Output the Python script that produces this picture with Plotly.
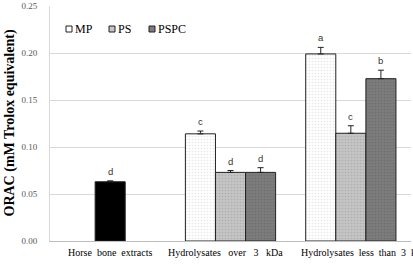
import plotly.graph_objects as go

categories = ["Horse bone extracts", "Hydrolysates over 3 kDa", "Hydrolysates less than 3 kDa"]
extract_value = [0.063]
extract_err = [0.001]
extract_letter = ["d"]

mp_values = [None, 0.114, 0.199]
mp_err = [0, 0.003, 0.007]
mp_letters = ["", "c", "a"]
ps_values = [None, 0.073, 0.1146]
ps_err = [0, 0.002, 0.008]
ps_letters = ["", "d", "c"]
pspc_values = [None, 0.073, 0.1727]
pspc_err = [0, 0.005, 0.009]
pspc_letters = ["", "d", "b"]

series_names = ["MP", "PS", "PSPC"]
y_ticks = [0.0, 0.05, 0.10, 0.15, 0.20, 0.25]

serif = "Liberation Serif, Times New Roman, serif"
sans = "Liberation Sans, Arial, sans-serif"

NB = "\u00a0"
label_text = [
    categories[0].replace(" ", NB + " "),
    categories[1].replace(" ", NB + NB + " "),
    categories[2].replace(" ", NB + " "),
]
# (anchor, pixel shift) for each category label
label_place = [("center", 0), ("center", -5), ("left", -52)]

fig = go.Figure()
W = 0.25
colors = ["#ffffff", "#c4c4c4", "#7c7c7c"]
fgs = ["#d0d0d0", "#9a9a9a", "#606060"]

def add_series(name, xs, ys, errs, color, fg, offset, shape):
    fig.add_trace(go.Bar(
        name=name, x=xs, y=ys, width=W, offset=offset,
        marker=dict(color=color, line=dict(color="#222222", width=1),
                    pattern=dict(shape=shape, fgcolor=fg, size=3, solidity=0.25) if shape else None),
        error_y=dict(type="data", array=errs, symmetric=False, arrayminus=[0]*len(errs),
                     color="#222222", thickness=1, width=3),
        showlegend=False,
    ))

add_series(series_names[0], categories, mp_values, mp_err, colors[0], fgs[0], -0.375, ".")
add_series(series_names[1], categories, ps_values, ps_err, colors[1], fgs[1], -0.125, ".")
add_series(series_names[2], categories, pspc_values, pspc_err, colors[2], fgs[2], 0.125, ".")
add_series("Horse bone", categories[:1], extract_value, extract_err, "#000000", "#000000", -0.125, "")

ann = []
def letters(vals, errs, labs, off):
    for i, (v, e, l) in enumerate(zip(vals, errs, labs)):
        if v is None or not l:
            continue
        ann.append(dict(x=i + off, y=v + e, xref="x", yref="y", text=l, showarrow=False,
                        yanchor="bottom", yshift=2, font=dict(family=sans, size=9.5, color="#333333")))

letters(mp_values, mp_err, mp_letters, -0.25)
letters(ps_values, ps_err, ps_letters, 0.0)
letters(pspc_values, pspc_err, pspc_letters, 0.25)
letters(extract_value, extract_err, extract_letter, 0.0)

for i, (txt, (anc, sh)) in enumerate(zip(label_text, label_place)):
    ann.append(dict(x=i, y=0, xref="x", yref="paper", text=txt, showarrow=False,
                    xanchor=anc, yanchor="top", xshift=sh, yshift=-4,
                    font=dict(family=serif, size=10, color="#000000")))

ann.append(dict(x=0, y=0.5, xref="paper", yref="paper", xshift=-41, text="<b>ORAC (mM Trolox equivalent)</b>",
                textangle=-90, showarrow=False, xanchor="center", yanchor="middle",
                font=dict(family=serif, size=14, color="#000000")))

# custom legend (small squares with text)
L, R, T, B = 50, 411, 6, 241
def px(X):
    return (X - L) / (R - L)
def py(Y):
    return (B - Y) / (B - T)

shapes = []
leg_x = [66, 109, 149]
for name, c, lx in zip(series_names, colors, leg_x):
    shapes.append(dict(type="rect", xref="paper", yref="paper", x0=px(lx), x1=px(lx + 6),
                       y0=py(32), y1=py(26), fillcolor=c, line=dict(color="#222222", width=1)))
    ann.append(dict(x=px(lx + 6.5), y=py(29), xref="paper", yref="paper", text=name, showarrow=False,
                    xanchor="left", yanchor="middle", font=dict(family=serif, size=12, color="#000000")))

fig.update_layout(
    width=413, height=264,
    margin=dict(l=L, r=413 - R, t=T, b=264 - B, autoexpand=False),
    barmode="overlay",
    plot_bgcolor="#ffffff", paper_bgcolor="#ffffff",
    annotations=ann, shapes=shapes,
    showlegend=False,
    xaxis=dict(type="category", range=[-0.5, 2.5], showgrid=False, showline=True,
               linecolor="#bfbfbf", linewidth=1, ticks="", showticklabels=False, automargin=False),
    yaxis=dict(range=[0, 0.25], tickvals=y_ticks, tickformat=".2f", showgrid=True,
               gridcolor="#d9d9d9", gridwidth=1, showline=True, linecolor="#d9d9d9",
               zeroline=False, ticks="", ticklabelstandoff=10, automargin=False,
               tickfont=dict(family=serif, size=9, color="#595959")),
)

fig.write_html("out.html")
